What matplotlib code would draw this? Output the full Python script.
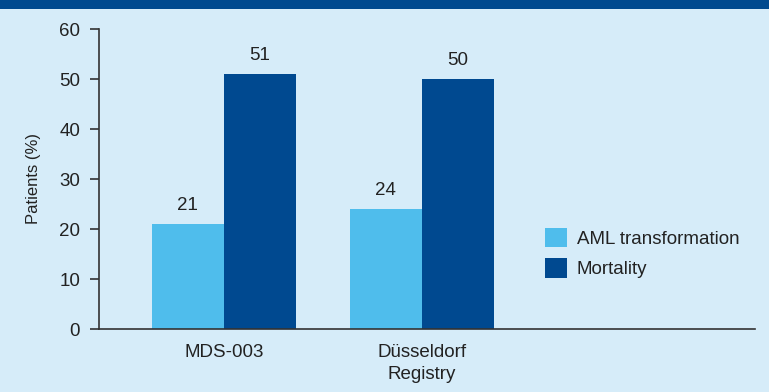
import matplotlib
matplotlib.use("Agg")
import matplotlib.pyplot as plt
from matplotlib.patches import Rectangle
import numpy as np

plt.rcParams['font.family'] = ['Liberation Sans', 'DejaVu Sans']

categories = ["MDS-003", "Düsseldorf\nRegistry"]
series_names = ["AML transformation", "Mortality"]
aml_values = [21, 24]
mortality_values = [51, 50]
y_ticks = [0, 10, 20, 30, 40, 50, 60]

bg = "#d6ecf9"
light = "#4fbdec"
dark = "#004990"
axis_col = "#333333"
text_col = "#222222"
fs = 13.5

fig = plt.figure(figsize=(7.69, 3.92), dpi=100, facecolor=bg)
# header band across the top
fig.patches.append(Rectangle((0, 1 - 9/392), 1, 9/392, transform=fig.transFigure,
                             facecolor="#004a8f", edgecolor="none", zorder=0))

ax = fig.add_axes([99/769, 63/392, 656/769, 300/392])
ax.set_facecolor(bg)

x = np.arange(len(categories))
w = 0.364
b1 = ax.bar(x - w/2, aml_values, w, color=light, label=series_names[0])
b2 = ax.bar(x + w/2, mortality_values, w, color=dark, label=series_names[1])

for bars, vals in ((b1, aml_values), (b2, mortality_values)):
    for r, v in zip(bars, vals):
        ax.text(r.get_x() + r.get_width()/2, v + 2.0, f"{v}", ha="center", va="bottom",
                fontsize=fs, color=text_col)

ax.set_xlim(-0.631, 2.682)
ax.set_ylim(0, 60)
ax.set_yticks(y_ticks)
ax.set_xticks(x)
ax.set_xticklabels(categories, fontsize=fs, color=text_col, linespacing=1.35)
ax.tick_params(axis="x", length=0, pad=11)
ax.tick_params(axis="y", direction="out", length=6.5, width=1.2, color=axis_col,
               labelsize=fs, labelcolor=text_col, pad=7)
for s in ("top", "right"):
    ax.spines[s].set_visible(False)
for s in ("left", "bottom"):
    ax.spines[s].set_color(axis_col)
    ax.spines[s].set_linewidth(1.2)

ax.set_ylabel("Patients (%)", fontsize=12, color=text_col, labelpad=13)

leg = ax.legend(loc="center left", bbox_to_anchor=(0.668, 0.253), frameon=False,
                fontsize=fs, handlelength=1.17, handleheight=1.23, handletextpad=0.55,
                labelspacing=0.55, borderaxespad=0)
for t in leg.get_texts():
    t.set_color(text_col)

fig.savefig("out.png", dpi=100, facecolor=bg)
